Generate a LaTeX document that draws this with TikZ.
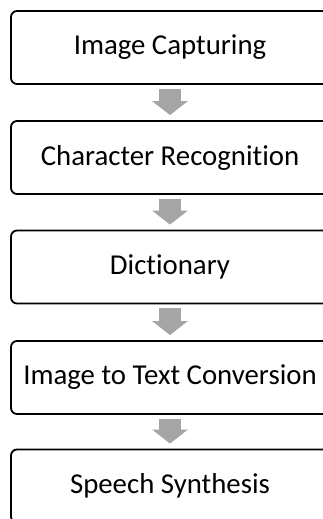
\documentclass[tikz,border=0pt]{standalone}
\usepackage{fontspec}
\setmainfont{Carlito}[Ligatures=NoCommon]
\usetikzlibrary{arrows.meta}
\definecolor{arrowgray}{RGB}{165,165,165}
\newcommand{\blk}{-{Triangle[length=14pt,width=35pt]}}

\begin{document}
\begin{tikzpicture}[x=1pt,y=-1pt,
  stage/.style={draw,line width=1.8pt,rounded corners=6pt,
    minimum width=318pt,minimum height=73pt,inner sep=0pt,
    font=\fontsize{28.8}{34}\selectfont},
  flow/.style={draw=arrowgray,line width=22pt,\blk}]
\useasboundingbox (0,0) rectangle (323,519);
\clip (0,0) rectangle (323,519);
%processing stages
\node[stage] (capture) at (170,47.5)  {Image Capturing};
\node[stage] (recog)   at (170,157.5) {Character Recognition};
\node[stage] (dict)    at (170,267)   {Dictionary};
\node[stage] (convert) at (170,377.5) {Image to Text Conversion};
\node[stage] (speech)  at (170,486)   {Speech Synthesis};
%block arrows
\draw[flow] ([yshift=-4pt]capture.south) -- ([yshift=5pt]recog.north);
\draw[flow] ([yshift=-4pt]recog.south)   -- ([yshift=5pt]dict.north);
\draw[flow] ([yshift=-4pt]dict.south)    -- ([yshift=5pt]convert.north);
\draw[flow] ([yshift=-4pt]convert.south) -- ([yshift=5pt]speech.north);
\end{tikzpicture}
\end{document}
